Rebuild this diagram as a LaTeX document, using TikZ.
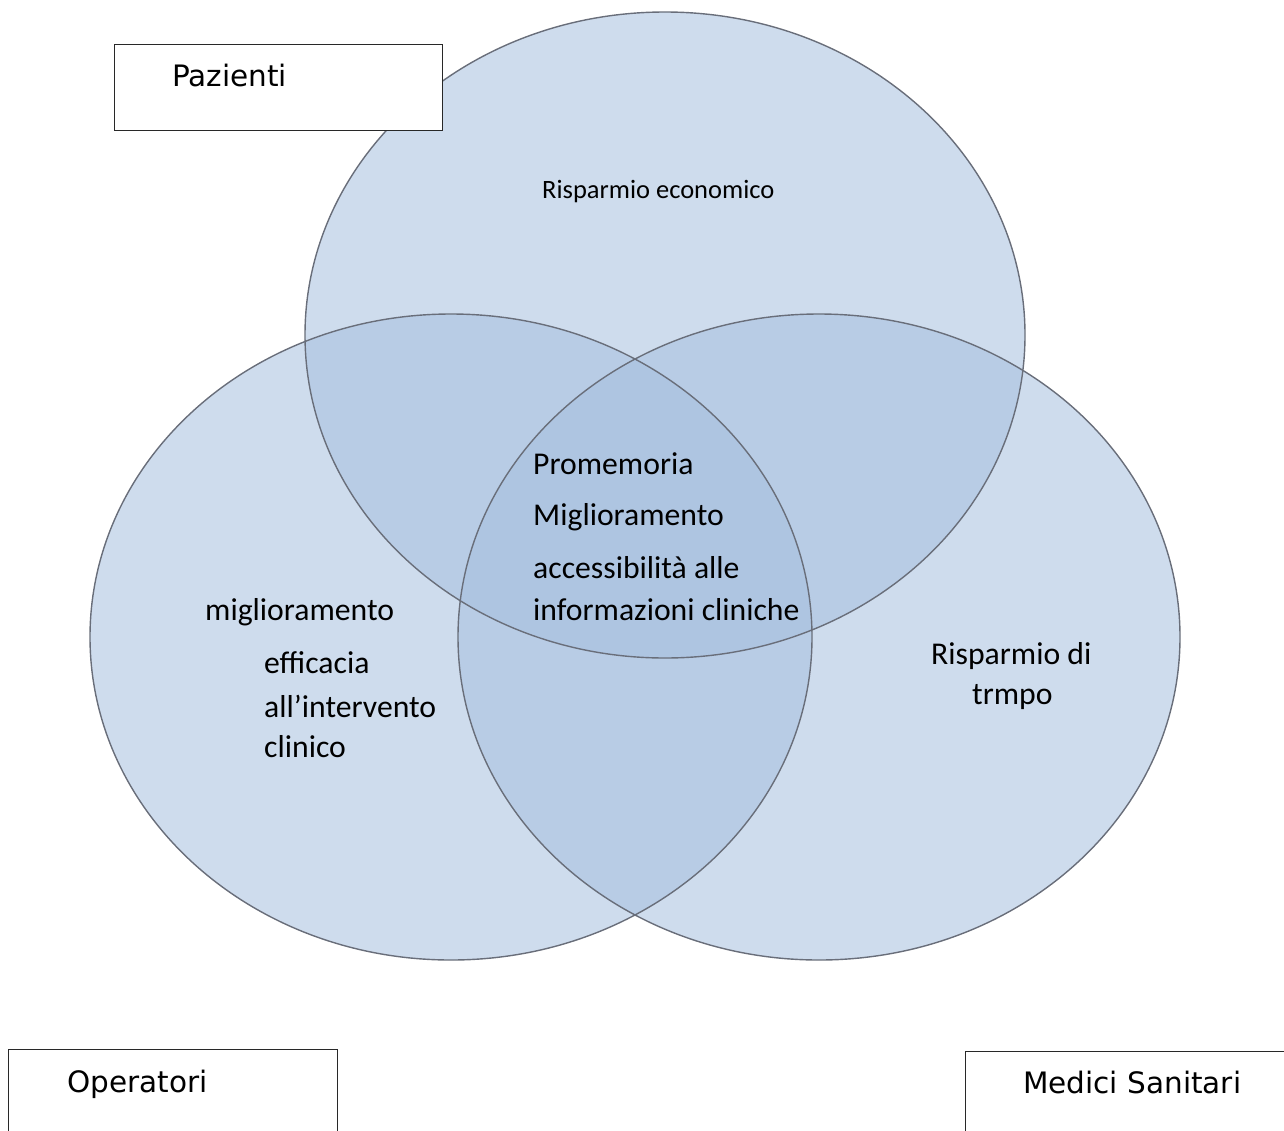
\documentclass[tikz,border=0pt]{standalone}
\usepackage{fontspec}
\setmainfont{Carlito}
\newfontfamily\boxfont{DejaVu Sans}
\definecolor{vennfill}{RGB}{166,191,222}
\definecolor{vennline}{RGB}{105,110,122}
\definecolor{boxline}{RGB}{40,40,40}
\begin{document}
\begin{tikzpicture}[x=1pt,y=-1pt,
  vfill/.style={fill=vennfill, fill opacity=0.55},
  vline/.style={draw=vennline, line width=1.4pt},
  catbox/.style={draw=boxline, line width=1.3pt, fill=white, anchor=north west, inner sep=0pt},
  catlabel/.style={anchor=base west, inner sep=0pt, font=\boxfont\fontsize{29.5}{35}\selectfont},
  bigtxt/.style={anchor=base west, inner sep=0pt, font=\fontsize{31.7}{38}\selectfont},
  smalltxt/.style={anchor=base west, inner sep=0pt, font=\fontsize{26.5}{32}\selectfont}]
\useasboundingbox (0,0) rectangle (1284,1130);
\clip (0,0) rectangle (1284,1130);
% fills
\path[vfill] (665,335) ellipse [x radius=360, y radius=323];
\path[vfill] (451,637) ellipse [x radius=361, y radius=323];
\path[vfill] (819,637) ellipse [x radius=361, y radius=323];
% outlines
\path[vline] (665,335) ellipse [x radius=360, y radius=323];
\path[vline] (451,637) ellipse [x radius=361, y radius=323];
\path[vline] (819,637) ellipse [x radius=361, y radius=323];
% category boxes
\node[catbox, minimum width=328pt, minimum height=86pt] (pbox) at (114,44) {};
\node[catlabel] (plab) at (172,86) {Pazienti};
\node[catbox, minimum width=329pt, minimum height=100pt] (obox) at (8,1049) {};
\node[catlabel] (olab) at (67,1092) {Operatori};
\node[catbox, minimum width=340pt, minimum height=100pt] (mbox) at (965,1051) {};
\node[catlabel] (mlab) at (1023,1093) {Medici Sanitari};
% texts
\node[smalltxt] (t0) at (542,198) {Risparmio economico};
\node[bigtxt] (c1) at (533,474) {Promemoria};
\node[bigtxt] (c2) at (533,525) {Miglioramento};
\node[bigtxt] (c3) at (533,578) {accessibilità alle};
\node[bigtxt] (c4) at (533,620) {informazioni cliniche};
\node[bigtxt] (l1) at (205,620) {miglioramento};
\node[bigtxt] (l2) at (264,673) {efficacia};
\node[bigtxt] (l3) at (264,717) {all’intervento};
\node[bigtxt] (l4) at (264,757) {clinico};
\node[bigtxt] (r1) at (931,664) {Risparmio di};
\node[bigtxt] (r2) at (972,704) {trmpo};
\end{tikzpicture}
\end{document}
